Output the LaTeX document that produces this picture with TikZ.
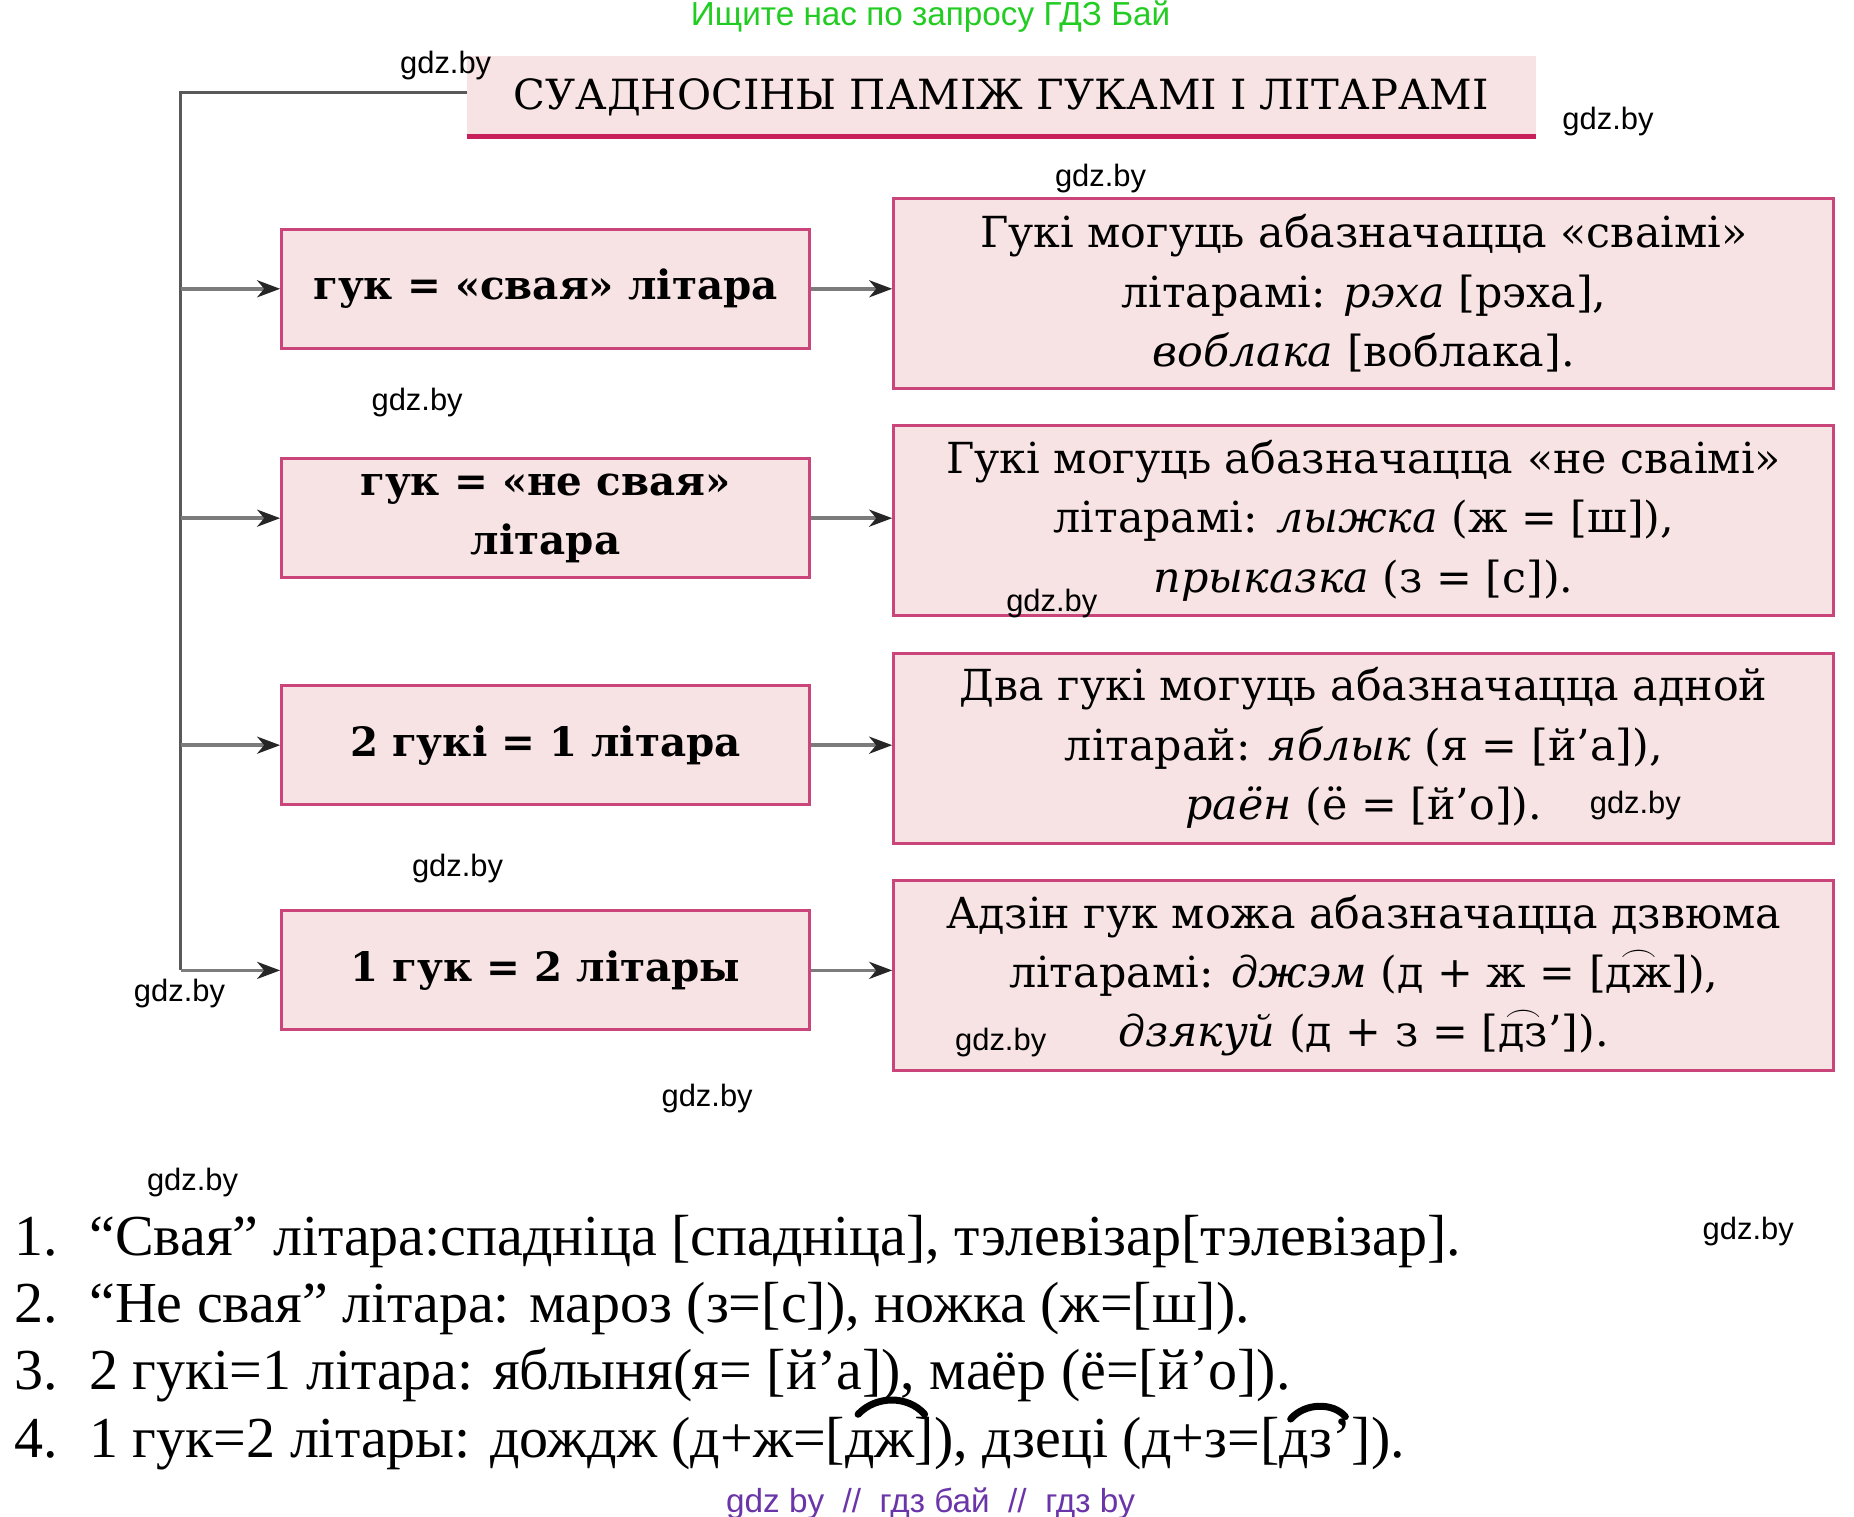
\documentclass[tikz,border=0pt]{standalone}
\usepackage{fontspec}
\setmainfont{DejaVu Serif}
\newfontfamily\timesfont{Liberation Serif}
\newfontfamily\sansfont{Liberation Sans}
\usetikzlibrary{arrows.meta,positioning}
\definecolor{boxfill}{HTML}{F7E3E3}
\definecolor{boxline}{HTML}{C9457A}
\definecolor{headline}{HTML}{C8205A}
\definecolor{linkgray}{HTML}{7C7C7C}
\definecolor{searchgreen}{HTML}{22CC22}
\definecolor{sitepurple}{HTML}{6A35A8}
\newcommand\arcover[1]{\ooalign{#1\cr\hidewidth\raisebox{0.6em}{\scalebox{1.5}[1.2]{$\frown$}}\hidewidth\cr}}
\tikzset
{
    headbox/.style  = {rectangle, fill=boxfill, minimum width=1068.5pt, minimum height=83.2pt, inner sep=0, font=\fontsize{41.6}{50}\selectfont},
    leftbox/.style  = {rectangle, draw=boxline, fill=boxfill, line width=3pt, minimum width=527.7pt, minimum height=118.9pt, align=center, inner sep=0, font=\fontsize{40.4}{59.4}\selectfont\bfseries},
    rightbox/.style = {rectangle, draw=boxline, fill=boxfill, line width=3pt, minimum width=940.1pt, minimum height=190.2pt, align=center, inner sep=0, font=\fontsize{42.8}{59.4}\selectfont},
    listtext/.style = {inner sep=0, anchor=base west, font=\timesfont\fontsize{58}{67.7}\selectfont},
    gdzmark/.style  = {inner sep=0, font=\sansfont\fontsize{30.9}{36}\selectfont},
    feed/.style     = {draw=linkgray, line width=3.5pt, -{Stealth[length=23pt,width=17pt,inset=7pt,color=black!85]}},
    trunk/.style    = {draw=black!65, line width=3pt},
    tiestroke/.style = {draw=black, line width=7pt, line cap=round}
}
\begin{document}
\begin{tikzpicture}[x=1.1885pt, y=-1.1885pt]
	\useasboundingbox (0,0) rectangle (1560,1276.4);
	% search hint
	\node[inner sep=0, text=searchgreen, font=\sansfont\fontsize{33.3}{40}\selectfont] (hint) at (783,14) {Ищите нас по запросу ГДЗ Бай};
	% heading
	\node[headbox] (head) at (842.5,82) {СУАДНОСІНЫ ПАМІЖ ГУКАМІ І ЛІТАРАМІ};
	\draw[draw=headline, line width=4.8pt] ([yshift=3pt]head.south west) -- ([yshift=3pt]head.south east);
	% left column
	\node[leftbox] (lb1) at (459,243) {гук = «свая» літара};
	\node[leftbox] (lb2) at (459,436) {гук = «не свая»\\літара};
	\node[leftbox] (lb3) at (459,627) {2 гукі = 1 літара};
	\node[leftbox] (lb4) at (459,816.5) {1 гук = 2 літары};
	% right column
	\node[rightbox] (rb1) at (1147.5,247) {Гукі могуць абазначацца «сваімі»\\літарамі: \textit{рэха} [рэха],\\\textit{воблака} [воблака].};
	\node[rightbox] (rb2) at (1147.5,438) {Гукі могуць абазначацца «не сваімі»\\літарамі: \textit{лыжка} (ж = [ш]),\\\textit{прыказка} (з = [с]).};
	\node[rightbox] (rb3) at (1147.5,629.5) {Два гукі могуць абазначацца адной\\літарай: \textit{яблык} (я = [й’а]),\\\textit{раён} (ё = [й’о]).};
	\node[rightbox] (rb4) at (1147.5,821) {Адзін гук можа абазначацца дзвюма\\літарамі: \textit{джэм} (д + ж = [\arcover{дж}]),\\\textit{дзякуй} (д + з = [\arcover{дз}’]).};
	% connectors
	\coordinate (top) at (152,78);
	\draw[trunk] (head.west |- top) -- (top) -- (top |- lb4.west);
	\draw[feed] (top |- lb1.west) -- (lb1.west);
	\draw[feed] (top |- lb2.west) -- (lb2.west);
	\draw[feed] (top |- lb3.west) -- (lb3.west);
	\draw[feed] (top |- lb4.west) -- (lb4.west);
	\draw[feed] (lb1.east) -- (rb1.west |- lb1.east);
	\draw[feed] (lb2.east) -- (rb2.west |- lb2.east);
	\draw[feed] (lb3.east) -- (rb3.west |- lb3.east);
	\draw[feed] (lb4.east) -- (rb4.west |- lb4.east);
	% answers
	\node[listtext] (item1) at (12,1056) {\makebox[74.9pt][l]{1.}“Свая” літара:спадніца [спадніца], тэлевізар[тэлевізар].};
	\node[listtext] (item2) at (12,1113) {\makebox[74.9pt][l]{2.}“Не свая” літара: мароз (з=[с]), ножка (ж=[ш]).};
	\node[listtext] (item3) at (12,1169) {\makebox[74.9pt][l]{3.}2 гукі=1 літара: яблыня(я= [й’а]), маёр (ё=[й’о]).};
	\node[listtext] (item4) at (12,1226) {\makebox[74.9pt][l]{4.}1 гук=2 літары: дождж (д+ж=[дж]), дзеці (д+з=[дз’]).};
	\draw[tiestroke] (722,1190) .. controls (737,1174) and (764,1174) .. (778,1190);
	\draw[tiestroke] (1086,1194) .. controls (1098,1180) and (1122,1180) .. (1132,1192);
	% watermarks
	\node[gdzmark] (w1) at (375,55) {gdz.by};
	\node[gdzmark] (w2) at (1353,102) {gdz.by};
	\node[gdzmark] (w3) at (926,150) {gdz.by};
	\node[gdzmark] (w4) at (351,339) {gdz.by};
	\node[gdzmark] (w5) at (885,508) {gdz.by};
	\node[gdzmark] (w6) at (1376,678) {gdz.by};
	\node[gdzmark] (w7) at (385,731) {gdz.by};
	\node[gdzmark] (w8) at (151,836) {gdz.by};
	\node[gdzmark] (w9) at (842,877) {gdz.by};
	\node[gdzmark] (w10) at (595,924) {gdz.by};
	\node[gdzmark] (w11) at (162,995) {gdz.by};
	\node[gdzmark] (w12) at (1471,1036) {gdz.by};
	\node[inner sep=0, text=sitepurple, font=\sansfont\fontsize{33.3}{40}\selectfont] (site) at (783,1265) {gdz by \ // \ гдз бай \ // \ гдз by};
\end{tikzpicture}
\end{document}
